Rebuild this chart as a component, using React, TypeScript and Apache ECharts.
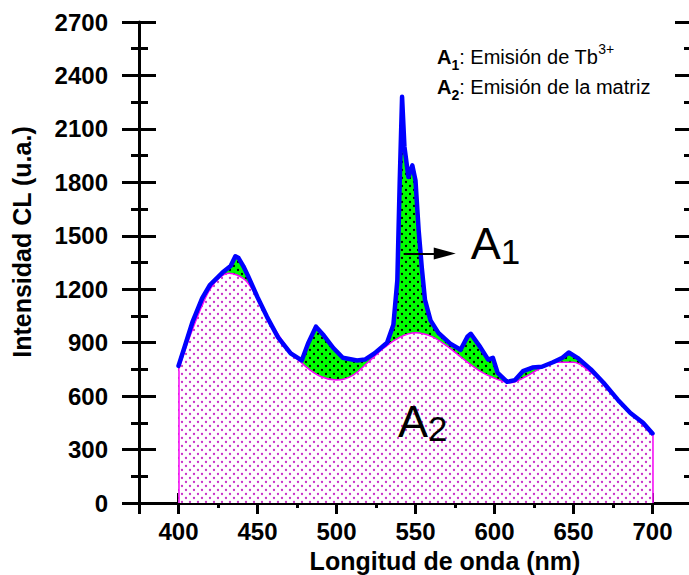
import React, { useEffect, useRef } from 'react';
import * as echarts from 'echarts';

// Total CL spectrum (blue curve)
const totalWavelength = [
  400, 404, 409, 415, 420, 428, 433, 436, 438, 441, 444, 450, 456, 463, 471, 478, 482, 487, 492, 498,
  504, 513, 518, 524, 532, 536, 538.5, 540, 541.5, 543, 545.5, 548, 550, 552, 554, 556, 559.5, 564.5,
  572, 578.5, 583, 585, 591, 596, 599, 602, 608, 613, 618, 624, 630, 637, 643, 647, 652.5, 661, 669,
  678, 686, 694, 700,
];
const totalIntensity = [
  770, 880, 1020, 1150, 1225, 1295, 1330, 1385, 1375, 1330, 1275, 1155, 1045, 930, 840, 800, 895, 990, 940, 870,
  815, 800, 805, 840, 900, 1000, 1250, 1800, 2280, 2000, 1830, 1895, 1810, 1530, 1320, 1140, 1025, 955,
  895, 860, 935, 950, 875, 805, 815, 730, 680, 690, 740, 760, 765, 790, 815, 845, 815, 750, 675,
  580, 505, 450, 390,
];

// Matrix emission (magenta curve, A2)
const matrixWavelength = [
  400, 405, 410, 415, 420, 426, 432, 437, 443, 450, 460, 470, 480, 490, 500, 510, 520, 530, 540, 550,
  560, 570, 580, 590, 600, 610, 620, 630, 640, 650, 660, 670, 680, 690, 700,
];
const matrixIntensity = [
  745, 880, 1000, 1110, 1200, 1265, 1290, 1280, 1245, 1150, 990, 860, 770, 710, 690, 715, 790, 870, 930, 955,
  935, 880, 810, 745, 700, 675, 710, 760, 790, 790, 740, 665, 565, 475, 380,
];

const xTitle = 'Longitud de onda (nm)';
const yTitle = 'Intensidad CL (u.a.)';
const legendLine1 = '{b|A}{bs|1}{r|: Emisión de Tb}{sup|3+}';
const legendLine2 = '{b|A}{bs|2}{r|: Emisión de la matriz}';

const FONT = '"Liberation Sans", Arial, Helvetica, sans-serif';

function svgPattern(bg: string, dot: string) {
  const svg =
    `<svg xmlns="http://www.w3.org/2000/svg" width="8" height="8">` +
    `<rect width="8" height="8" fill="${bg}"/>` +
    `<circle cx="2" cy="2" r="1.15" fill="${dot}"/>` +
    `<circle cx="6" cy="6" r="1.15" fill="${dot}"/></svg>`;
  return 'data:image/svg+xml;charset=utf-8,' + encodeURIComponent(svg);
}

const zip = (xs: number[], ys: number[]) => xs.map((x, i) => [x, ys[i]]);

export default function App() {
  const ref = useRef<HTMLDivElement>(null);

  useEffect(() => {
    if (!ref.current) return;
    const chart = echarts.init(ref.current, null, { renderer: 'svg' });

    const black = '#000';
    const xBase = {
      type: 'value',
      min: 375,
      max: 725,
      splitNumber: 7,
      minInterval: 50,
      maxInterval: 50,
      splitLine: { show: false },
      axisLine: { show: true, lineStyle: { color: black, width: 3 } },
    };
    const yBase = {
      type: 'value',
      min: 0,
      max: 2700,
      interval: 300,
      splitLine: { show: false },
      axisLine: { show: true, lineStyle: { color: black, width: 3 } },
    };
    const tick = (inside: boolean, len: number) => ({
      show: true,
      inside,
      length: len,
      lineStyle: { color: black, width: 3 },
    });
    const minor = (len: number) => ({
      show: true,
      splitNumber: 2,
      length: len,
      lineStyle: { color: black, width: 3 },
    });
    const noLabel = { show: false };

    const greenPattern = {
      image: svgPattern('#00ff00', '#000000'),
      repeat: 'repeat',
      imageWidth: 8,
      imageHeight: 8,
    };
    const magentaPattern = {
      image: svgPattern('#ffffff', '#c832c8'),
      repeat: 'repeat',
      imageWidth: 8,
      imageHeight: 8,
    };

    chart.setOption({
      animation: false,
      backgroundColor: '#ffffff',
      grid: {
        left: 139,
        width: 553,
        top: 22,
        height: 481,
        containLabel: false,
        outerBoundsMode: 'none',
      },
      xAxis: [
        {
          ...xBase,
          position: 'bottom',
          axisTick: tick(true, 10),
          minorTick: minor(5),
          axisLabel: {
            show: true,
            color: black,
            fontFamily: FONT,
            fontWeight: 'bold',
            fontSize: 24,
            margin: 16,
            formatter: (v: number) => (v % 50 === 0 ? String(v) : ''),
          },
        },
        {
          ...xBase,
          position: 'bottom',
          axisLine: { show: false },
          axisTick: tick(false, 10),
          minorTick: minor(5),
          axisLabel: noLabel,
        },
        {
          ...xBase,
          position: 'top',
          axisTick: tick(true, 11),
          minorTick: minor(4),
          axisLabel: noLabel,
        },
      ],
      yAxis: [
        {
          ...yBase,
          position: 'left',
          axisTick: tick(true, 17),
          minorTick: minor(9),
          axisLabel: {
            show: true,
            color: black,
            fontFamily: FONT,
            fontWeight: 'bold',
            fontSize: 24,
            margin: 31,
            formatter: (v: number) => String(v),
          },
        },
        {
          ...yBase,
          position: 'left',
          axisLine: { show: false },
          axisTick: tick(false, 17),
          minorTick: minor(8),
          axisLabel: noLabel,
        },
        {
          ...yBase,
          position: 'right',
          axisTick: tick(true, 17),
          minorTick: minor(8),
          axisLabel: noLabel,
        },
      ],
      graphic: [
        {
          type: 'text',
          x: 445,
          y: 561,
          style: {
            text: xTitle,
            fill: black,
            font: `bold 25px ${FONT}`,
            align: 'center',
            verticalAlign: 'middle',
          },
        },
        {
          type: 'text',
          x: 22,
          y: 242,
          rotation: Math.PI / 2,
          style: {
            text: yTitle,
            fill: black,
            font: `bold 25px ${FONT}`,
            align: 'center',
            verticalAlign: 'middle',
          },
        },
        {
          type: 'text',
          x: 437,
          y: 57,
          style: {
            text: legendLine1,
            align: 'left',
            verticalAlign: 'middle',
            rich: {
              b: { fontFamily: FONT, fontWeight: 'bold', fontSize: 20, lineHeight: 30, verticalAlign: 'middle', fill: black },
              bs: { fontFamily: FONT, fontWeight: 'bold', fontSize: 14, lineHeight: 21, verticalAlign: 'bottom', fill: black },
              r: { fontFamily: FONT, fontSize: 20, lineHeight: 30, verticalAlign: 'middle', fill: black },
              sup: { fontFamily: FONT, fontSize: 14, lineHeight: 6, verticalAlign: 'top', fill: black },
            },
          },
        },
        {
          type: 'text',
          x: 437,
          y: 87,
          style: {
            text: legendLine2,
            align: 'left',
            verticalAlign: 'middle',
            rich: {
              b: { fontFamily: FONT, fontWeight: 'bold', fontSize: 20, lineHeight: 30, verticalAlign: 'middle', fill: black },
              bs: { fontFamily: FONT, fontWeight: 'bold', fontSize: 14, lineHeight: 21, verticalAlign: 'bottom', fill: black },
              r: { fontFamily: FONT, fontSize: 20, lineHeight: 30, verticalAlign: 'middle', fill: black },
            },
          },
        },
      ],
      series: [
        {
          name: 'A1 fill',
          type: 'line',
          xAxisIndex: 0,
          yAxisIndex: 0,
          z: 2,
          data: zip(totalWavelength, totalIntensity),
          showSymbol: false,
          silent: true,
          lineStyle: { width: 0, opacity: 0 },
          areaStyle: { color: greenPattern, opacity: 1 },
        },
        {
          name: 'A2',
          type: 'line',
          xAxisIndex: 0,
          yAxisIndex: 0,
          z: 3,
          smooth: 0.35,
          data: zip(matrixWavelength, matrixIntensity),
          showSymbol: false,
          silent: true,
          lineStyle: { color: '#ff00ff', width: 1.5 },
          areaStyle: { color: magentaPattern, opacity: 1 },
          markLine: {
            silent: true,
            symbol: ['none', 'none'],
            label: { show: false },
            lineStyle: { color: '#ff00ff', width: 1.5, type: 'solid' },
            data: [
              [{ coord: [matrixWavelength[0], 0] }, { coord: [matrixWavelength[0], matrixIntensity[0]] }],
              [
                { coord: [matrixWavelength[matrixWavelength.length - 1], 0] },
                { coord: [matrixWavelength[matrixWavelength.length - 1], matrixIntensity[matrixIntensity.length - 1]] },
              ],
            ],
          },
          markPoint: {
            silent: true,
            symbol: 'circle',
            symbolSize: 0,
            itemStyle: { color: 'transparent' },
            label: {
              show: true,
              position: 'right',
              distance: 0,
              formatter: '{a|A}{s|2}',
              rich: {
                a: { fontFamily: FONT, fontSize: 45, lineHeight: 50, verticalAlign: 'middle', color: black },
                s: { fontFamily: FONT, fontSize: 35, lineHeight: 19, verticalAlign: 'bottom', color: black },
              },
            },
            data: [{ coord: [539, 460] }],
          },
        },
        {
          name: 'Total',
          type: 'line',
          xAxisIndex: 0,
          yAxisIndex: 0,
          z: 4,
          data: zip(totalWavelength, totalIntensity),
          showSymbol: false,
          silent: true,
          lineStyle: { color: '#0000ff', width: 4.5, join: 'round', cap: 'round' },
          markLine: {
            silent: true,
            z: 10,
            symbol: ['none', 'triangle'],
            symbolSize: [12, 22],
            label: { show: false },
            itemStyle: { color: black },
            lineStyle: { color: black, width: 2, type: 'solid' },
            data: [[{ coord: [542.5, 1400] }, { coord: [568.5, 1400] }]],
          },
          markPoint: {
            silent: true,
            symbol: 'circle',
            symbolSize: 0,
            itemStyle: { color: 'transparent' },
            label: {
              show: true,
              position: 'right',
              distance: 0,
              formatter: '{a|A}{s|1}',
              rich: {
                a: { fontFamily: FONT, fontSize: 45, lineHeight: 50, verticalAlign: 'middle', color: black },
                s: { fontFamily: FONT, fontSize: 35, lineHeight: 22, verticalAlign: 'bottom', color: black },
              },
            },
            data: [{ coord: [585, 1455] }],
          },
        },
      ],
    });

    return () => chart.dispose();
  }, []);

  return (
    <div
      ref={ref}
      style={{ position: 'absolute', left: 0, top: 0, width: 689, height: 575, background: '#fff' }}
    />
  );
}
